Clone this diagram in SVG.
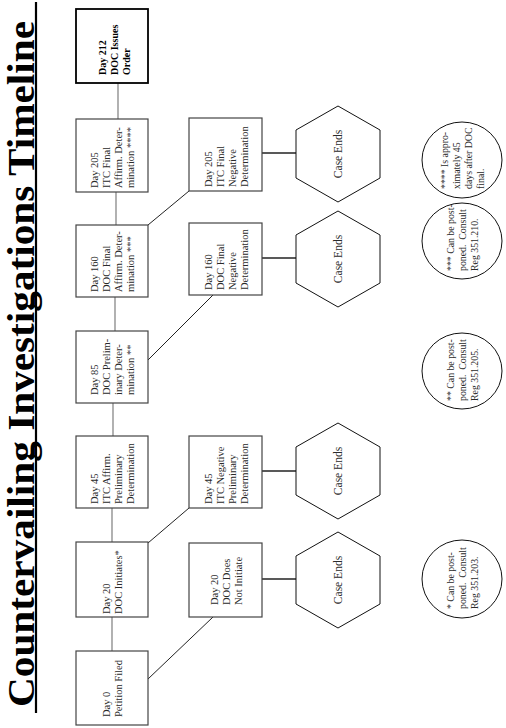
<svg xmlns="http://www.w3.org/2000/svg" width="506" height="728" viewBox="0 0 506 728">
<style>
.t{font-family:"Liberation Serif","Times New Roman",serif;font-size:10.5px;fill:#2a2a2a}
.b{font-weight:bold;fill:#000;font-size:10px}
.c{font-size:9.8px;white-space:pre}
.e{font-size:11.5px}
.box{fill:#fff;stroke:#444;stroke-width:1.2}
.box2{fill:#fff;stroke:#000;stroke-width:1.8}
.hex{fill:#fff;stroke:#111;stroke-width:1}
.note{fill:#fff;stroke:#111;stroke-width:1}
.tl{stroke:#888;stroke-width:1.3;fill:none}
.dg{stroke:#222;stroke-width:1;fill:none}
.hx{stroke:#222;stroke-width:1.3;fill:none}
.title{font-family:"Liberation Serif","Times New Roman",serif;font-weight:bold;font-size:38px;fill:#000}
</style>
<rect width="506" height="728" fill="#fff"/>
<g transform="matrix(0,-1,1,0,0,728)">
  <g id="title">
    <text class="title" x="21" y="34" textLength="686" lengthAdjust="spacingAndGlyphs">Countervailing Investigations Timeline</text>
    <line x1="15" y1="36" x2="726" y2="36" stroke="#000" stroke-width="2.2"/>
  </g>
  <g id="connectors">
    <line class="tl" x1="77" y1="112" x2="111" y2="112"/>
    <line class="tl" x1="186" y1="112" x2="220" y2="112"/>
    <line class="tl" x1="292" y1="113" x2="325" y2="113"/>
    <line class="tl" x1="397" y1="115" x2="431" y2="115"/>
    <line class="tl" x1="503" y1="116" x2="536" y2="116"/>
    <line class="tl" x1="609" y1="118" x2="645" y2="118"/>
    <line class="dg" x1="49" y1="148" x2="111" y2="213"/>
    <line class="dg" x1="185" y1="148" x2="220" y2="189"/>
    <line class="dg" x1="368" y1="148" x2="433" y2="213"/>
    <line class="dg" x1="503" y1="148" x2="537" y2="189"/>
    <line class="hx" x1="149" y1="262" x2="149" y2="296"/>
    <line class="hx" x1="257" y1="262" x2="257" y2="296"/>
    <line class="hx" x1="470" y1="262" x2="470" y2="296"/>
    <line class="hx" x1="575" y1="262" x2="575" y2="296"/>
  </g>
  <g id="day0">
    <rect class="box" x="3" y="76" width="74" height="72"/>
    <text class="t"><tspan x="11" y="110">Day 0</tspan><tspan x="11" y="122">Petition Filed</tspan></text>
  </g>
  <g id="day20-initiates">
    <rect class="box" x="111" y="76" width="75" height="72"/>
    <text class="t"><tspan x="114" y="110">Day 20</tspan><tspan x="114" y="122">DOC Initiates*</tspan></text>
  </g>
  <g id="day45-affirm">
    <rect class="box" x="220" y="76" width="72" height="72"/>
    <text class="t"><tspan x="224" y="98">Day 45</tspan><tspan x="224" y="110">ITC Affirm.</tspan><tspan x="224" y="122">Preliminary</tspan><tspan x="224" y="134">Determination</tspan></text>
  </g>
  <g id="day85">
    <rect class="box" x="325" y="76" width="72" height="72"/>
    <text class="t"><tspan x="333" y="98">Day 85</tspan><tspan x="333" y="110">DOC Prelim-</tspan><tspan x="333" y="122">inary Deter-</tspan><tspan x="333" y="134">mination **</tspan></text>
  </g>
  <g id="day160-affirm">
    <rect class="box" x="431" y="76" width="72" height="72"/>
    <text class="t"><tspan x="436" y="98">Day 160</tspan><tspan x="436" y="110">DOC Final</tspan><tspan x="436" y="122">Affirm. Deter-</tspan><tspan x="436" y="134">mination ***</tspan></text>
  </g>
  <g id="day205-affirm">
    <rect class="box" x="536" y="76" width="73" height="72"/>
    <text class="t"><tspan x="540" y="98">Day 205</tspan><tspan x="540" y="110">ITC Final</tspan><tspan x="540" y="122">Affirm. Deter-</tspan><tspan x="540" y="134">mination ****</tspan></text>
  </g>
  <g id="day212">
    <rect class="box2" x="645" y="76" width="74" height="72"/>
    <text class="t b"><tspan x="653" y="106">Day 212</tspan><tspan x="653" y="118">DOC Issues</tspan><tspan x="653" y="130">Order</tspan></text>
  </g>
  <g id="day20-not">
    <rect class="box" x="111" y="189" width="74" height="73"/>
    <text class="t"><tspan x="123" y="217.5">Day 20</tspan><tspan x="123" y="229.5">DOC Does</tspan><tspan x="123" y="241.5">Not Initiate</tspan></text>
  </g>
  <g id="day45-negative">
    <rect class="box" x="220" y="189" width="72" height="73"/>
    <text class="t"><tspan x="224" y="211.5">Day 45</tspan><tspan x="224" y="223.5">ITC Negative</tspan><tspan x="224" y="235.5">Preliminary</tspan><tspan x="224" y="247.5">Determination</tspan></text>
  </g>
  <g id="day160-negative">
    <rect class="box" x="433" y="189" width="72" height="73"/>
    <text class="t"><tspan x="438" y="211.5">Day 160</tspan><tspan x="438" y="223.5">DOC Final</tspan><tspan x="438" y="235.5">Negative</tspan><tspan x="438" y="247.5">Determination</tspan></text>
  </g>
  <g id="day205-negative">
    <rect class="box" x="537" y="189" width="73" height="73"/>
    <text class="t"><tspan x="541" y="211.5">Day 205</tspan><tspan x="541" y="223.5">ITC Final</tspan><tspan x="541" y="235.5">Negative</tspan><tspan x="541" y="247.5">Determination</tspan></text>
  </g>
  <g id="end1">
    <polygon class="hex" points="100,338 124,296 172,296 196,338 172,380 124,380"/>
    <text class="t e" x="148" y="342" text-anchor="middle">Case Ends</text>
  </g>
  <g id="end2">
    <polygon class="hex" points="209,338 233,296 281,296 305,338 281,380 233,380"/>
    <text class="t e" x="257" y="342" text-anchor="middle">Case Ends</text>
  </g>
  <g id="end3">
    <polygon class="hex" points="421,338 445,296 493,296 517,338 493,380 445,380"/>
    <text class="t e" x="469" y="342" text-anchor="middle">Case Ends</text>
  </g>
  <g id="end4">
    <polygon class="hex" points="526,338 550,296 598,296 622,338 598,380 550,380"/>
    <text class="t e" x="574" y="342" text-anchor="middle">Case Ends</text>
  </g>
  <g id="note1">
    <ellipse class="note" cx="149" cy="462" rx="39" ry="40"/>
    <text class="t c"><tspan x="119" y="454">* Can be post-</tspan><tspan x="119" y="466">poned.  Consult</tspan><tspan x="119" y="478">Reg 351.203.</tspan></text>
  </g>
  <g id="note2">
    <ellipse class="note" cx="357" cy="462" rx="38" ry="40"/>
    <text class="t c"><tspan x="327" y="454">** Can be post-</tspan><tspan x="327" y="466">poned.  Consult</tspan><tspan x="327" y="478">Reg 351.205.</tspan></text>
  </g>
  <g id="note3">
    <ellipse class="note" cx="487" cy="462" rx="38" ry="40"/>
    <text class="t c"><tspan x="457" y="454">*** Can be post-</tspan><tspan x="457" y="466">poned.  Consult</tspan><tspan x="457" y="478">Reg 351.210.</tspan></text>
  </g>
  <g id="note4">
    <ellipse class="note" cx="568" cy="462" rx="38" ry="40"/>
    <text class="t c"><tspan x="539" y="448">**** Is appro-</tspan><tspan x="539" y="460">ximately 45</tspan><tspan x="539" y="472">days after DOC</tspan><tspan x="539" y="484">final.</tspan></text>
  </g>
</g>
</svg>
